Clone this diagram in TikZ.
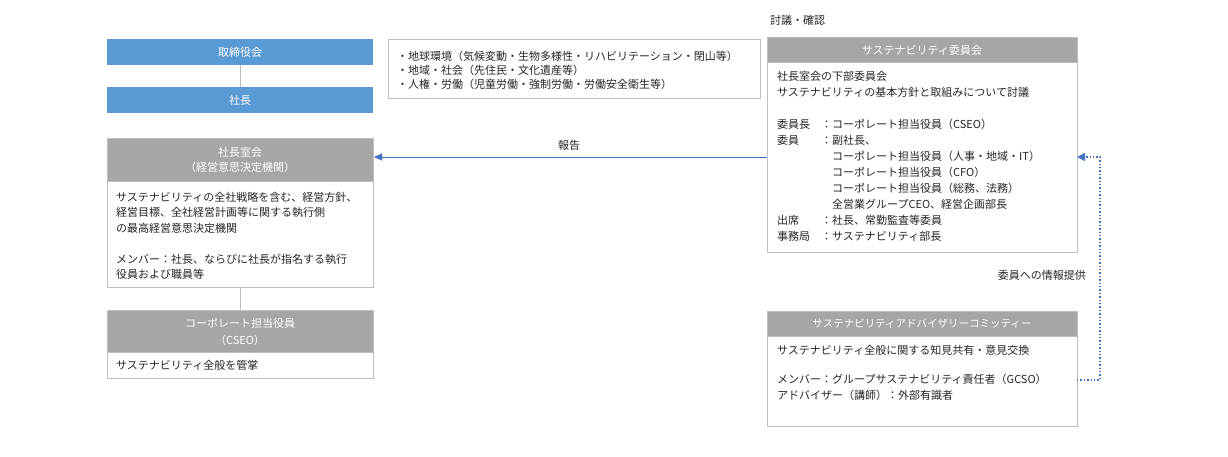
\documentclass[tikz,border=0pt]{standalone}
\usepackage{fontspec}
\setmainfont{Noto Sans CJK JP}
\usetikzlibrary{arrows.meta}
\definecolor{boardblue}{HTML}{5B9BD5}
\definecolor{hdrgray}{HTML}{A6A6A6}
\definecolor{bordergray}{HTML}{BFBFBF}
\definecolor{arrowblue}{HTML}{4472C4}
\begin{document}
\begin{tikzpicture}[x=1pt,y=-1pt,
  bluebox/.style={fill=boardblue,draw=none},
  hdrbox/.style={fill=hdrgray,draw=bordergray,line width=0.8pt},
  bodybox/.style={fill=white,draw=bordergray,line width=0.8pt},
  whitetxt/.style={text=white,font=\fontsize{11}{15}\selectfont,align=center,inner sep=0pt},
  bodytxt/.style={text=black!85,font=\fontsize{11}{15.5}\selectfont,align=left,inner sep=0pt,anchor=north west},
  conn/.style={draw=bordergray,line width=0.8pt},
  reparrow/.style={draw=arrowblue,line width=0.9pt,-{Triangle[length=8pt,width=7pt]}},
  infoarrow/.style={draw=arrowblue,line width=1.4pt,dotted,-{Triangle[length=8pt,width=8pt]}},
  lbl/.style={text=black!85,font=\fontsize{11}{14}\selectfont,inner sep=0pt}]
\useasboundingbox (0,0) rectangle (1228,457);
\fill[white] (0,0) rectangle (1228,457);

% board and president
\fill[bluebox] (107,39) rectangle (373,65);
\node[whitetxt] (board) at (240,52) {取締役会};
\fill[bluebox] (107,87) rectangle (373,113);
\node[whitetxt] (pres) at (240,100) {社長};
\coordinate (boardS) at (240,65);
\coordinate (presN) at (240,87);
\draw[conn] (boardS) -- (presN);

% 社長室会
\draw[hdrbox] (107,138) rectangle (373,181);
\node[whitetxt] (mgmt) at (240,159.5) {社長室会\\（経営意思決定機関）};
\draw[bodybox] (107,181) rectangle (373,287);
\node[bodytxt] (mgmtbody) at (116,192) {サステナビリティの全社戦略を含む、経営方針、\\経営目標、全社経営計画等に関する執行側\\の最高経営意思決定機関\\[15.5pt]メンバー：社長、ならびに社長が指名する執行\\役員および職員等};
\coordinate (mgmtS) at (240,287);
\coordinate (cseoN) at (240,310);
\draw[conn] (mgmtS) -- (cseoN);

% CSEO
\draw[hdrbox] (107,310) rectangle (373,352);
\node[whitetxt,font=\fontsize{11}{17}\selectfont] (cseo) at (240,331.5) {コーポレート担当役員\\（CSEO）};
\draw[bodybox] (107,352) rectangle (373,378);
\node[bodytxt] (cseobody) at (116,360.5) {サステナビリティ全般を管掌};

% issues box
\draw[bodybox] (388,39) rectangle (760,98);
\node[bodytxt,font=\fontsize{11}{14}\selectfont] (issues) at (397,50.5) {・地球環境（気候変動・生物多様性・リハビリテーション・閉山等）\\・地域・社会（先住民・文化遺産等）\\・人権・労働（児童労働・強制労働・労働安全衛生等）};

% committee
\node[lbl,anchor=west] (discuss) at (770,20) {討議・確認};
\draw[hdrbox] (767,37) rectangle (1077,62);
\node[whitetxt] (comm) at (922,50) {サステナビリティ委員会};
\draw[bodybox] (767,62) rectangle (1077,252);
\node[bodytxt,font=\fontsize{11}{16}\selectfont] (commbody) at (777,71.5) {社長室会の下部委員会\\
サステナビリティの基本方針と取組みについて討議\\[16pt]
\makebox[44pt][l]{委員長}：コーポレート担当役員（CSEO）\\
\makebox[44pt][l]{委員}：副社長、\\
\hspace*{55pt}コーポレート担当役員（人事・地域・IT）\\
\hspace*{55pt}コーポレート担当役員（CFO）\\
\hspace*{55pt}コーポレート担当役員（総務、法務）\\
\hspace*{55pt}全営業グループCEO、経営企画部長\\
\makebox[44pt][l]{出席}：社長、常勤監査等委員\\
\makebox[44pt][l]{事務局}：サステナビリティ部長};

% advisory
\draw[hdrbox] (767,311) rectangle (1077,336);
\node[whitetxt,font=\fontsize{10.5}{14}\selectfont] (adv) at (922,323.5) {サステナビリティアドバイザリーコミッティー};
\draw[bodybox] (767,336) rectangle (1077,426);
\node[bodytxt,font=\fontsize{11}{16}\selectfont] (advbody) at (777,345.5) {サステナビリティ全般に関する知見共有・意見交換\\[13pt]
メンバー：グループサステナビリティ責任者（GCSO）\\
アドバイザー（講師）：外部有識者};

% report arrow
\coordinate (commW) at (767,157);
\coordinate (mgmtE) at (374,157);
\draw[reparrow] (commW) -- (mgmtE);
\node[lbl] (report) at (569,145) {報告};

% info arrow
\coordinate (advE) at (1077,380);
\coordinate (commE) at (1077,157);
\draw[infoarrow] (advE) -- (1100,380) -- (1100,157) -- (commE);
\node[lbl,anchor=east] (info) at (1086,275) {委員への情報提供};
\end{tikzpicture}
\end{document}
